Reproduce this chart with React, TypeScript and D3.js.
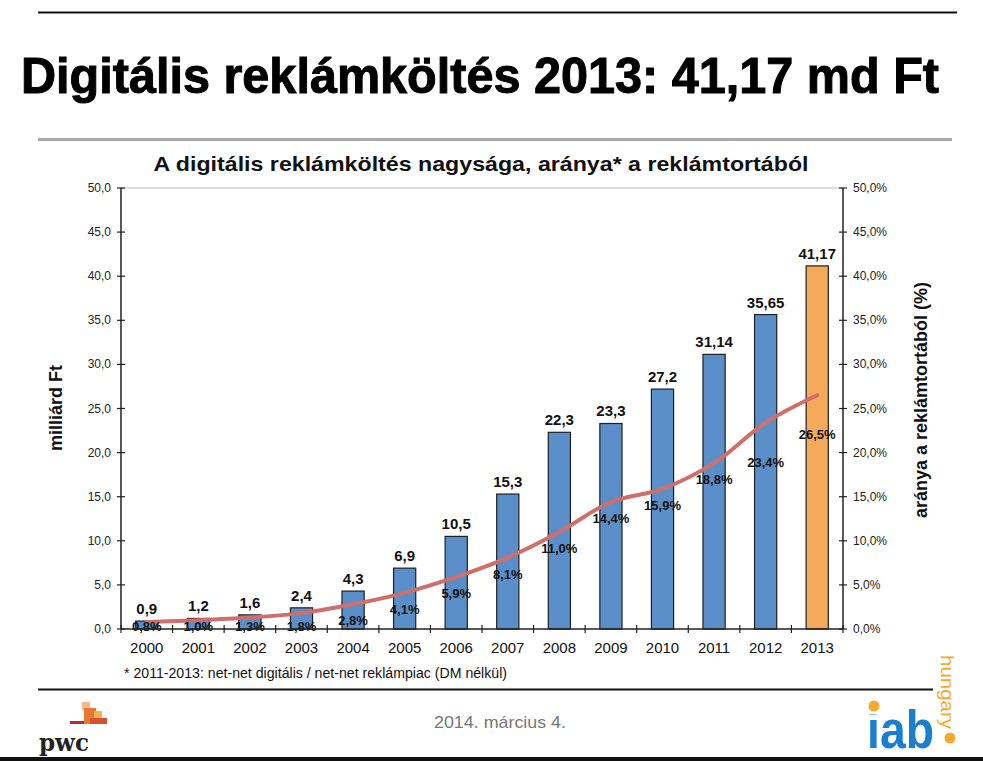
import React from 'react';
import * as d3 from 'd3';

const years = ['2000', '2001', '2002', '2003', '2004', '2005', '2006', '2007', '2008', '2009', '2010', '2011', '2012', '2013'];
const spend = [0.9, 1.2, 1.6, 2.4, 4.3, 6.9, 10.5, 15.3, 22.3, 23.3, 27.2, 31.14, 35.65, 41.17];
const share = [0.8, 1.0, 1.3, 1.8, 2.8, 4.1, 5.9, 8.1, 11.0, 14.4, 15.9, 18.8, 23.4, 26.5];
const leftTicks = [0, 5, 10, 15, 20, 25, 30, 35, 40, 45, 50];
const rightTicks = [0, 5, 10, 15, 20, 25, 30, 35, 40, 45, 50];

const W = 983;
const H = 761;
const plot = { left: 121, right: 843, top: 188, bottom: 629 };
const font = '"Liberation Sans", Arial, sans-serif';

const comma = (v: number) => String(v).replace('.', ',');

const App = () => {
  const x = d3.scaleBand().domain(years).range([plot.left, plot.right]).paddingInner(0.57).paddingOuter(0.285);
  const yL = d3.scaleLinear().domain([0, 50]).range([plot.bottom, plot.top]);
  const yR = d3.scaleLinear().domain([0, 50]).range([plot.bottom, plot.top]);
  const step = (plot.right - plot.left) / years.length;
  const cx = (y: string) => (x(y) as number) + x.bandwidth() / 2;

  const line = d3
    .line<number>()
    .x((_, i) => cx(years[i]))
    .y((d) => yR(d))
    .curve(d3.curveCatmullRom.alpha(0.5));

  return (
    <svg width={W} height={H} style={{ position: 'absolute', left: 0, top: 0, background: '#fff' }}>
      <defs>
        <clipPath id="noteClip">
          <rect x={0} y={664} width={W} height={24} />
        </clipPath>
      </defs>

      {/* slide frame */}
      <line x1={38} x2={957} y1={12.5} y2={12.5} stroke="#111" strokeWidth={2} />
      <text x={480} y={93} textAnchor="middle" fontFamily={font} fontWeight="bold" fontSize={50}
        textLength={918} lengthAdjust="spacingAndGlyphs" fill="#000" stroke="#000" strokeWidth={1}>
        Digitális reklámköltés 2013: 41,17 md Ft
      </text>
      <line x1={38} x2={952} y1={139.5} y2={139.5} stroke="#aaa" strokeWidth={3} />

      {/* chart title */}
      <text x={481} y={171} textAnchor="middle" fontFamily={font} fontWeight="bold" fontSize={21} fill="#111"
        textLength={655} lengthAdjust="spacingAndGlyphs">
        A digitális reklámköltés nagysága, aránya* a reklámtortából
      </text>

      {/* plot top border */}
      <line x1={plot.left} x2={plot.right} y1={plot.top} y2={plot.top} stroke="#bbb" strokeWidth={1} />

      {/* bars */}
      {years.map((yr, i) => (
        <rect key={yr} x={x(yr)} y={yL(spend[i])} width={x.bandwidth()} height={plot.bottom - yL(spend[i])}
          fill={i === years.length - 1 ? '#f5a95b' : '#5b8fca'} stroke="#1f1f1f" strokeWidth={1.2} />
      ))}

      {/* share line */}
      <path d={line(share) as string} fill="none" stroke="#cf6f6b" strokeWidth={4} strokeLinecap="round" />

      {/* bar value labels */}
      {years.map((yr, i) => (
        <text key={yr} x={cx(yr)} y={yL(spend[i]) - 7} textAnchor="middle" fontFamily={font} fontWeight="bold"
          fontSize={15} fill="#111">
          {comma(spend[i])}
        </text>
      ))}

      {/* share labels */}
      {years.map((yr, i) => {
        const dy = i >= 12 ? 44 : 21;
        const yy = Math.min(yR(share[i]) + dy, 631);
        return (
          <text key={yr} x={cx(yr)} y={yy} textAnchor="middle" fontFamily={font} fontWeight="bold" fontSize={13}
            fill="#111">
            {share[i].toFixed(1).replace('.', ',')}%
          </text>
        );
      })}

      {/* left axis */}
      <line x1={plot.left} x2={plot.left} y1={plot.top} y2={plot.bottom} stroke="#222" strokeWidth={1.5} />
      {leftTicks.map((t) => (
        <g key={t}>
          <line x1={plot.left - 4} x2={plot.left + 4} y1={yL(t)} y2={yL(t)} stroke="#222" strokeWidth={1.2} />
          <text x={plot.left - 10} y={yL(t) + 4} textAnchor="end" fontFamily={font} fontSize={12} fill="#222">
            {t.toFixed(1).replace('.', ',')}
          </text>
        </g>
      ))}
      <text transform={`translate(62,${408}) rotate(-90)`} textAnchor="middle"
        fontFamily={font} fontWeight="bold" fontSize={18} fill="#111">
        milliárd Ft
      </text>

      {/* right axis */}
      <line x1={plot.right} x2={plot.right} y1={plot.top} y2={plot.bottom} stroke="#222" strokeWidth={1.5} />
      {rightTicks.map((t) => (
        <g key={t}>
          <line x1={plot.right - 4} x2={plot.right + 4} y1={yR(t)} y2={yR(t)} stroke="#222" strokeWidth={1.2} />
          <text x={plot.right + 10} y={yR(t) + 4} textAnchor="start" fontFamily={font} fontSize={12} fill="#222">
            {t.toFixed(1).replace('.', ',')}%
          </text>
        </g>
      ))}
      <text transform={`translate(927,${400}) rotate(-90)`} textAnchor="middle" fontFamily={font}
        fontWeight="bold" fontSize={18} fill="#111">
        aránya a reklámtortából (%)
      </text>

      {/* x axis */}
      <line x1={plot.left} x2={plot.right} y1={plot.bottom} y2={plot.bottom} stroke="#222" strokeWidth={1.5} />
      {d3.range(years.length + 1).map((i) => (
        <line key={i} x1={plot.left + i * step} x2={plot.left + i * step} y1={plot.bottom - 4} y2={plot.bottom + 4}
          stroke="#222" strokeWidth={1.2} />
      ))}
      {years.map((yr) => (
        <text key={yr} x={cx(yr)} y={653} textAnchor="middle" fontFamily={font} fontSize={15} fill="#111">
          {yr}
        </text>
      ))}

      {/* footnote, cropped like the source image */}
      <text x={124} y={678} clipPath="url(#noteClip)" fontFamily={font} fontSize={14} fill="#111"
        textLength={383} lengthAdjust="spacingAndGlyphs">
        * 2011-2013: net-net digitális / net-net reklámpiac (DM nélkül)
      </text>

      {/* footer */}
      <line x1={38} x2={933} y1={689.5} y2={689.5} stroke="#111" strokeWidth={2} />
      <text x={500} y={728} textAnchor="middle" fontFamily={font} fontSize={17} fill="#777"
        textLength={132} lengthAdjust="spacingAndGlyphs">
        2014. március 4.
      </text>
      <rect x={0} y={757} width={W} height={4} fill="#111" />

      {/* pwc mark */}
      <g>
        <rect x={82} y={702} width={8} height={8} fill="#f7b98a" />
        <rect x={84} y={708} width={12} height={16} fill="#e8782f" />
        <rect x={94} y={711} width={8} height={9} fill="#f3b24f" />
        <rect x={90} y={718} width={17} height={6} fill="#d8502e" />
        <rect x={70} y={721} width={14} height={3} fill="#c8262f" />
        <text x={39} y={751} fontFamily={'"DejaVu Serif", serif'} fontWeight="bold" fontSize={24} fill="#222"
          textLength={50} lengthAdjust="spacingAndGlyphs">pwc</text>
      </g>

      {/* iab mark */}
      <g>
        <text x={867} y={748} fontFamily={font} fontWeight="bold" fontSize={54} fill="#1a7fcf"
          textLength={67} lengthAdjust="spacingAndGlyphs">iab</text>
        <rect x={868} y={700} width={12} height={14} fill="#fff" />
        <circle cx={874} cy={706} r={5.5} fill="#f7a92f" />
        <circle cx={950} cy={738} r={5.5} fill="#f7a92f" />
        <text transform="translate(941,655) rotate(90)" fontFamily={font} fontSize={18} fill="#f7a92f"
          textLength={74} lengthAdjust="spacingAndGlyphs">
          hungary
        </text>
      </g>
    </svg>
  );
};

export default App;
